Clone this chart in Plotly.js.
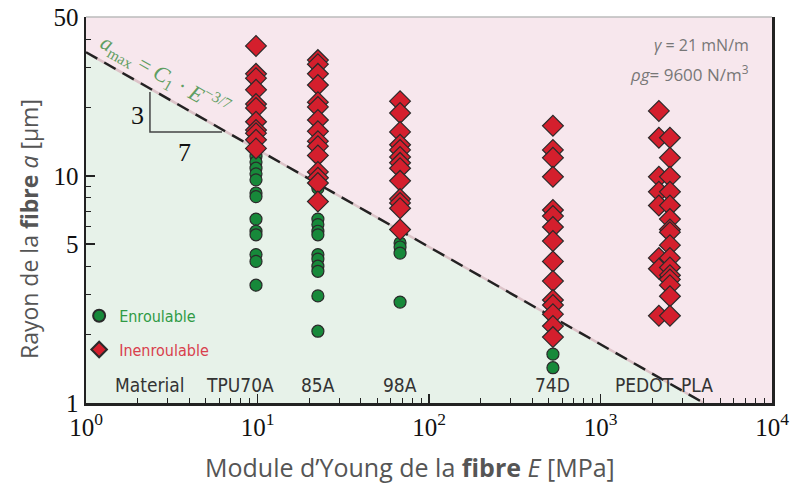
<!DOCTYPE html>
<html>
<head>
<meta charset="utf-8">
<script src="https://cdn.plot.ly/plotly-3.0.1.min.js"></script>
<style>
  html, body { margin: 0; padding: 0; background: #fff; }
  #chart { width: 800px; height: 484px; }
</style>
</head>
<body>
<div id="chart"></div>
<script>
// Young's modulus of each material (MPa)
const materials = ['TPU70A', '85A', '98A', '74D', 'PEDOT', 'PLA'];
const modulus   = [9.8, 22.5, 67.8, 528, 2190, 2540];

// Fibre radii (µm) that could be wound ("Enroulable")
const coilRadius = [
  [12.2, 11.5, 10.8, 10.2, 9.6, 8.4, 8.1, 6.45, 5.7, 5.5, 4.5, 4.2, 3.3],
  [8.8, 7.6, 6.45, 6.1, 5.7, 5.5, 4.5, 4.3, 4.0, 3.8, 2.96, 2.07],
  [5.06, 4.86, 4.57, 2.78],
  [1.64, 1.43],
  [],
  []
];

// Fibre radii (µm) that could not be wound ("Inenroulable")
const noCoilRadius = [
  [37.3, 28.1, 26.9, 23.9, 20.7, 19.9, 17.3, 15.9, 15.4, 14.4, 13.2],
  [32.3, 31.0, 28.1, 25.1, 21.1, 20.1, 17.6, 15.7, 14.2, 13.5, 12.3, 10.4, 9.8, 9.3, 7.7],
  [21.3, 18.9, 15.6, 13.7, 13.0, 12.1, 11.4, 10.8, 9.5, 7.9, 7.6, 7.2, 5.8],
  [16.6, 13.0, 12.0, 9.9, 7.07, 6.65, 5.95, 5.16, 4.2, 3.44, 2.84, 2.70, 2.46, 2.18, 1.95],
  [19.3, 14.7, 9.9, 8.5, 7.4, 4.35, 3.9, 2.42],
  [14.7, 12.0, 9.9, 8.5, 7.4, 6.45, 5.8, 5.65, 4.95, 4.35, 3.95, 3.65, 3.5, 3.3, 2.95, 2.42]
];

// Material labels along the bottom of the plot (position given as modulus)
const labelText = ['Material', 'TPU70A', '85A', '98A', '74D', 'PEDOT', 'PLA'];
const labelE    = [2.36, 7.9, 22.5, 67.8, 528, 1815, 3655];

// Axis ticks
const xTickVals = [1, 10, 100, 1000, 10000];
const xTickText = ['10<sup>0</sup>', '10<sup>1</sup>', '10<sup>2</sup>', '10<sup>3</sup>', '10<sup>4</sup>'];
const yTickVals = [1, 5, 10, 50];
const yTickText = ['1', '5', '10', '50'];

// Boundary law a_max = C1 * E^(-3/7)
const C1 = 35;
const slope = -3 / 7;
const E_MIN = 1, E_MAX = 1e4, A_MIN = 1, A_MAX = 50;
const aMax = E => C1 * Math.pow(E, slope);
const eAtFloor = Math.pow(A_MIN / C1, 1 / slope);

// Slope triangle corners (E, a)
const triE = [2.36, 2.36, 6.21];
const triA = [23.4, 15.6, 15.6];

const flat = arr => arr.reduce((acc, v) => acc.concat(v), []);
const xsFor = arr => flat(arr.map((vals, i) => vals.map(() => modulus[i])));

const traces = [
  // green (coilable) region below the boundary
  {
    x: [E_MIN, E_MIN, eAtFloor, E_MIN], y: [A_MIN, aMax(E_MIN), A_MIN, A_MIN],
    mode: 'lines', fill: 'toself', fillcolor: '#e7f2e9', line: {width: 0},
    showlegend: false, hoverinfo: 'skip'
  },
  // pink region above the boundary
  {
    x: [E_MIN, E_MIN, E_MAX, E_MAX, eAtFloor, E_MIN],
    y: [aMax(E_MIN), A_MAX, A_MAX, A_MIN, A_MIN, aMax(E_MIN)],
    mode: 'lines', fill: 'toself', fillcolor: '#f7e7ed', line: {width: 0},
    showlegend: false, hoverinfo: 'skip'
  },
  // soft edge under the dashed boundary
  {
    x: [E_MIN, eAtFloor], y: [aMax(E_MIN), A_MIN],
    mode: 'lines', line: {color: '#dcc3c8', width: 2.5},
    showlegend: false, hoverinfo: 'skip'
  },
  // dashed boundary
  {
    x: [E_MIN, eAtFloor], y: [aMax(E_MIN), A_MIN],
    mode: 'lines', line: {color: '#222', width: 2.4, dash: '13px,8px'},
    showlegend: false, hoverinfo: 'skip'
  },
  // slope triangle
  {
    x: triE, y: triA, mode: 'lines', line: {color: '#444', width: 1.5},
    showlegend: false, hoverinfo: 'skip'
  },
  {
    x: xsFor(coilRadius), y: flat(coilRadius),
    mode: 'markers', type: 'scatter', legendgroup: 'coil',
    name: '<span style="color:#2f9a45">Enroulable</span>',
    marker: {symbol: 'circle', size: 12, color: '#17893a', line: {color: '#2a2a2a', width: 1.2}}
  },
  {
    x: xsFor(noCoilRadius), y: flat(noCoilRadius),
    mode: 'markers', type: 'scatter', legendgroup: 'nocoil',
    name: '<span style="color:#d9404d">Inenroulable</span>',
    marker: {symbol: 'diamond', size: 16, color: '#d41f2d', line: {color: '#2a2a2a', width: 1.2}}
  }
];

const serif = 'Liberation Serif, DejaVu Serif, serif';
const condensed = 'Liberation Sans Narrow, DejaVu Sans Condensed, sans-serif';
const sans = 'Open Sans, sans-serif';

const annotations = labelText.map((t, i) => ({
  x: Math.log10(labelE[i]), y: 0.047, xref: 'x', yref: 'paper',
  text: t, showarrow: false, xanchor: 'center', yanchor: 'middle',
  font: {family: condensed, size: 19, color: '#333'}
}));

annotations.push(
  {
    x: 0.115, y: 0.848, xref: 'paper', yref: 'paper', showarrow: false,
    xanchor: 'center', yanchor: 'middle',
    text: '<i>a</i><sub>max</sub> = <i>C</i><sub>1</sub> · <i>E</i><sup>−3/7</sup>',
    textangle: 29.6,
    font: {family: serif, size: 22, color: '#5f9e62'}
  },
  {
    x: Math.log10(2.0), y: Math.log10(18.4), xref: 'x', yref: 'y', showarrow: false,
    text: '3', font: {family: serif, size: 26, color: '#111'}
  },
  {
    x: Math.log10(3.75), y: Math.log10(12.7), xref: 'x', yref: 'y', showarrow: false,
    text: '7', font: {family: serif, size: 26, color: '#111'}
  },
  {
    x: 0.97, y: 0.927, xref: 'paper', yref: 'paper', showarrow: false,
    xanchor: 'right', yanchor: 'middle', align: 'right',
    text: '<i>γ</i> = 21 mN/m',
    font: {family: sans, size: 16, color: '#777'}
  },
  {
    x: 0.97, y: 0.853, xref: 'paper', yref: 'paper', showarrow: false,
    xanchor: 'right', yanchor: 'middle', align: 'right',
    text: '<i>ρg</i>= 9600 N/m<sup>3</sup>',
    font: {family: sans, size: 17, color: '#777'}
  },
  // axis titles
  {
    x: 0.472, y: -0.166, xref: 'paper', yref: 'paper', showarrow: false,
    xanchor: 'center', yanchor: 'middle',
    text: 'Module d’Young de la <b>fibre</b> <i>E</i> [MPa]',
    font: {family: sans, size: 25, color: '#555'}
  },
  {
    x: -0.082, y: 0.45, xref: 'paper', yref: 'paper', showarrow: false,
    xanchor: 'center', yanchor: 'middle', textangle: -90,
    text: 'Rayon de la <b>fibre</b> <i>a</i> [μm]',
    font: {family: sans, size: 23, color: '#555'}
  }
);

const layout = {
  width: 800, height: 484,
  margin: {l: 86, r: 28, t: 17, b: 81},
  paper_bgcolor: '#fff', plot_bgcolor: '#fff',
  showlegend: true,
  legend: {
    x: -0.01, y: 0.27, xanchor: 'left', yanchor: 'top',
    bgcolor: 'rgba(0,0,0,0)', borderwidth: 0,
    font: {family: condensed, size: 16},
    traceorder: 'grouped', tracegroupgap: 10, itemsizing: 'constant'
  },
  xaxis: {
    type: 'log', range: [0, 4],
    tickvals: xTickVals, ticktext: xTickText,
    ticks: 'inside', ticklen: 9, tickwidth: 1.5, tickcolor: '#222',
    minor: {ticks: 'inside', ticklen: 5, tickwidth: 1, tickcolor: '#222', dtick: 'D1'},
    showgrid: false, zeroline: false,
    showline: true, linecolor: '#222', linewidth: 2.5, mirror: false,
    tickfont: {family: serif, size: 25, color: '#111'}
  },
  yaxis: {
    type: 'log', range: [0, Math.log10(50)],
    tickvals: yTickVals, ticktext: yTickText,
    ticks: 'inside', ticklen: 9, tickwidth: 1.5, tickcolor: '#222',
    minor: {ticks: 'inside', ticklen: 5, tickwidth: 1, tickcolor: '#222', dtick: 'D1'},
    showgrid: false, zeroline: false,
    showline: true, linecolor: '#222', linewidth: 2.5, mirror: true,
    tickfont: {family: serif, size: 25, color: '#111'}
  },
  shapes: [
    {type: 'line', xref: 'paper', yref: 'paper', x0: 0, x1: 1, y0: 1, y1: 1,
     line: {color: '#bbb', width: 1.5}}
  ],
  annotations: annotations
};

Plotly.newPlot('chart', traces, layout, {displayModeBar: false, staticPlot: true});
</script>
</body>
</html>
